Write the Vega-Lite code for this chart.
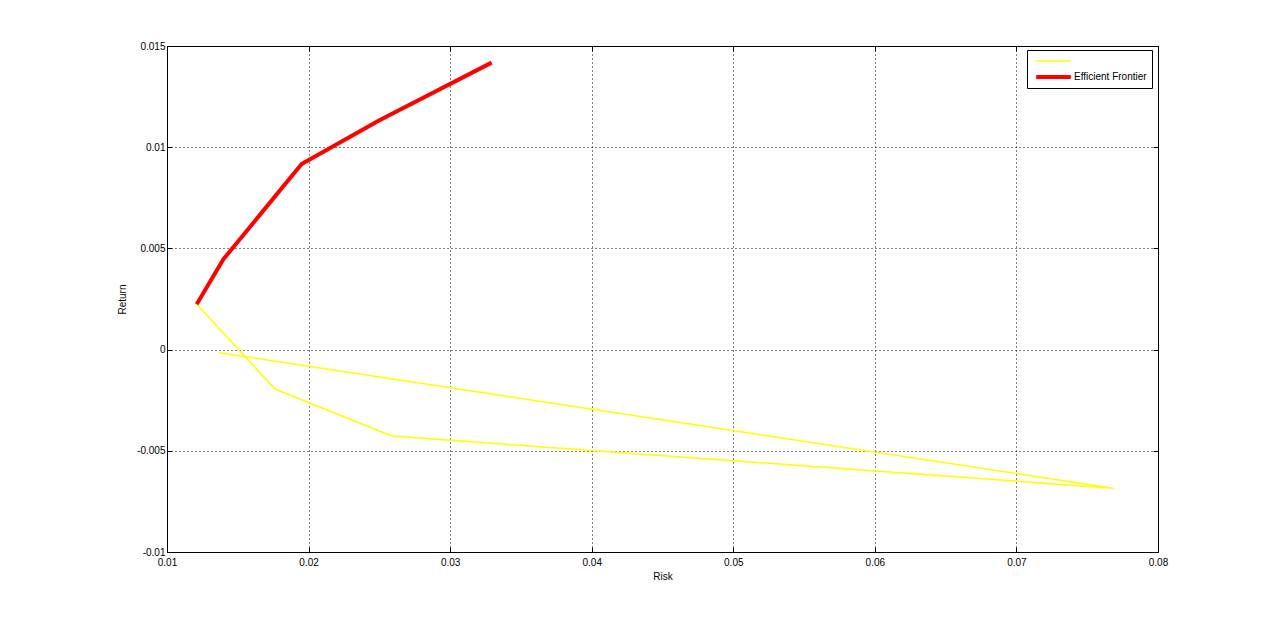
{
  "$schema": "https://vega.github.io/schema/vega-lite/v6.json",
  "width": 991,
  "height": 506,
  "autosize": {"type": "none"},
  "padding": {"left": 167, "top": 46, "right": 122, "bottom": 69},
  "background": "white",
  "config": {
    "view": {"stroke": "#000", "strokeWidth": 1},
    "font": "Liberation Sans",
    "axis": {
      "labelFont": "Liberation Sans",
      "titleFont": "Liberation Sans",
      "labelFontSize": 10,
      "titleFontSize": 10,
      "titleFontWeight": "normal",
      "labelColor": "#000",
      "titleColor": "#000",
      "domainColor": "#000",
      "tickColor": "#000",
      "tickSize": -5,
      "gridColor": "#000",
      "gridDash": [1, 3],
      "gridOpacity": 1,
      "gridWidth": 1
    }
  },
  "data": {
    "values": [
      {"series": " ", "ord": 1, "risk": 0.0121, "ret": 0.00224},
      {"series": " ", "ord": 2, "risk": 0.01763, "ret": -0.00195},
      {"series": " ", "ord": 3, "risk": 0.02587, "ret": -0.00427},
      {"series": " ", "ord": 4, "risk": 0.07684, "ret": -0.00685},
      {"series": " ", "ord": 5, "risk": 0.01369, "ret": -0.00015},
      {"series": "Efficient Frontier", "ord": 1, "risk": 0.0121, "ret": 0.00224},
      {"series": "Efficient Frontier", "ord": 2, "risk": 0.01398, "ret": 0.00446},
      {"series": "Efficient Frontier", "ord": 3, "risk": 0.01951, "ret": 0.00917},
      {"series": "Efficient Frontier", "ord": 4, "risk": 0.02504, "ret": 0.01134},
      {"series": "Efficient Frontier", "ord": 5, "risk": 0.03293, "ret": 0.01418}
    ]
  },
  "resolve": {"axis": {"x": "independent", "y": "independent"}},
  "layer": [
    {
      "transform": [{"filter": "datum.series === ' '"}],
      "mark": {"type": "line", "strokeCap": "butt"},
      "encoding": {
        "x": {
          "field": "risk", "type": "quantitative",
          "scale": {"domain": [0.01, 0.08], "nice": false, "zero": false},
          "axis": {
            "title": "Risk", "orient": "bottom", "grid": true,
            "values": [0.01, 0.02, 0.03, 0.04, 0.05, 0.06, 0.07, 0.08],
            "labelExpr": "replace(format(datum.value, '~g'), '−', '-')",
            "labelPadding": 10, "titlePadding": 4, "labelFlush": false
          }
        },
        "y": {
          "field": "ret", "type": "quantitative",
          "scale": {"domain": [-0.01, 0.015], "nice": false, "zero": false},
          "axis": {
            "title": "Return", "orient": "left", "grid": true,
            "values": [-0.01, -0.005, 0, 0.005, 0.01, 0.015],
            "labelExpr": "replace(format(datum.value, '~g'), '−', '-')",
            "labelPadding": 7, "titlePadding": 9, "labelFlush": false
          }
        },
        "order": {"field": "ord", "type": "quantitative"},
        "color": {
          "field": "series", "type": "nominal",
          "scale": {"domain": [" ", "Efficient Frontier"], "range": ["#ffff00", "#ff0000"]},
          "legend": {
            "title": null, "orient": "none", "legendX": 860, "legendY": 4,
            "symbolType": "stroke", "symbolSize": 1200, "clipHeight": 12,
            "fillColor": "white", "strokeColor": "#000",
            "padding": 5, "rowPadding": 4,
            "labelFont": "Liberation Sans", "labelFontSize": 10, "labelColor": "#000",
            "labelOffset": 1, "symbolOffset": 2
          }
        },
        "strokeWidth": {
          "field": "series", "type": "nominal",
          "scale": {"domain": [" ", "Efficient Frontier"], "range": [1.5, 4]},
          "legend": {
            "title": null, "orient": "none", "legendX": 860, "legendY": 4,
            "symbolType": "stroke", "symbolSize": 1200, "clipHeight": 12,
            "fillColor": "white", "strokeColor": "#000",
            "padding": 5, "rowPadding": 4,
            "labelFont": "Liberation Sans", "labelFontSize": 10, "labelColor": "#000",
            "labelOffset": 1, "symbolOffset": 2
          }
        }
      }
    },
    {
      "transform": [{"filter": "datum.series === 'Efficient Frontier'"}],
      "mark": {"type": "line", "strokeCap": "butt", "strokeJoin": "round"},
      "encoding": {
        "x": {
          "field": "risk", "type": "quantitative",
          "axis": {
            "title": null, "orient": "top", "grid": false, "labels": false,
            "values": [0.01, 0.02, 0.03, 0.04, 0.05, 0.06, 0.07, 0.08]
          }
        },
        "y": {
          "field": "ret", "type": "quantitative",
          "axis": {
            "title": null, "orient": "right", "grid": false, "labels": false,
            "values": [-0.01, -0.005, 0, 0.005, 0.01, 0.015]
          }
        },
        "order": {"field": "ord", "type": "quantitative"},
        "color": {"field": "series", "type": "nominal"},
        "strokeWidth": {"field": "series", "type": "nominal"}
      }
    }
  ]
}
